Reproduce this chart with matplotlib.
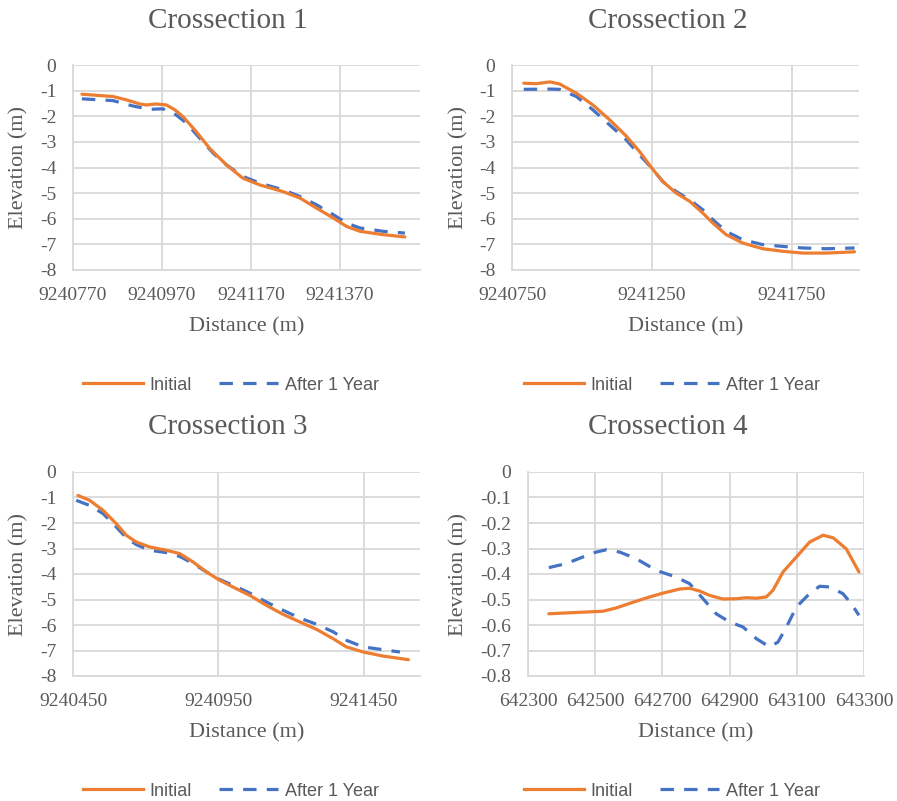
import matplotlib
matplotlib.use("Agg")
import matplotlib.pyplot as plt
from matplotlib.lines import Line2D

# ---------------- data ----------------
titles = ["Crossection 1", "Crossection 2", "Crossection 3", "Crossection 4"]
series_names = ["Initial", "After 1 Year"]

cs1_x_init = [9240790, 9240860, 9240890, 9240920, 9240935, 9240957, 9240980, 9240999, 9241017,
              9241047, 9241077, 9241115, 9241152, 9241190, 9241242, 9241280, 9241317, 9241355,
              9241385, 9241415, 9241467, 9241516]
cs1_y_init = [-1.14, -1.23, -1.36, -1.52, -1.56, -1.52, -1.56, -1.75, -2.01, -2.60, -3.25, -3.90,
              -4.42, -4.68, -4.94, -5.19, -5.58, -5.97, -6.30, -6.49, -6.62, -6.71]
cs1_x_after = [9240790, 9240860, 9240905, 9240942, 9240972, 9241002, 9241025, 9241055, 9241085,
               9241115, 9241152, 9241190, 9241242, 9241280, 9241317, 9241355, 9241385, 9241415,
               9241467, 9241516]
cs1_y_after = [-1.32, -1.39, -1.60, -1.73, -1.71, -1.95, -2.27, -2.86, -3.44, -3.90, -4.35, -4.61,
               -4.87, -5.13, -5.45, -5.84, -6.17, -6.36, -6.49, -6.56]

cs2_x_init = [9240792, 9240837, 9240885, 9240920, 9240980, 9241039, 9241099, 9241158, 9241206,
              9241250, 9241289, 9241337, 9241385, 9241432, 9241468, 9241515, 9241575, 9241646,
              9241718, 9241789, 9241873, 9241974]
cs2_y_init = [-0.71, -0.73, -0.66, -0.74, -1.10, -1.56, -2.14, -2.77, -3.38, -4.03, -4.55, -5.00,
              -5.32, -5.78, -6.17, -6.62, -6.95, -7.17, -7.27, -7.34, -7.34, -7.29]
cs2_x_after = [9240792, 9240885, 9240920, 9240980, 9241039, 9241099, 9241158, 9241206, 9241250,
               9241289, 9241337, 9241385, 9241432, 9241468, 9241515, 9241575, 9241646, 9241718,
               9241789, 9241873, 9241974]
cs2_y_after = [-0.95, -0.94, -0.95, -1.23, -1.75, -2.34, -2.92, -3.51, -4.03, -4.55, -4.94, -5.26,
               -5.65, -6.04, -6.49, -6.82, -7.01, -7.08, -7.14, -7.17, -7.14]

cs3_x_init = [9240467, 9240507, 9240553, 9240599, 9240633, 9240668, 9240714, 9240771, 9240817,
              9240863, 9240909, 9240955, 9241000, 9241058, 9241115, 9241172, 9241230, 9241287,
              9241345, 9241390, 9241448, 9241517, 9241603]
cs3_y_init = [-0.92, -1.11, -1.50, -2.03, -2.48, -2.75, -2.94, -3.07, -3.20, -3.53, -3.92, -4.25,
              -4.51, -4.84, -5.23, -5.58, -5.88, -6.17, -6.54, -6.86, -7.06, -7.22, -7.36]
cs3_x_after = [9240461, 9240507, 9240553, 9240599, 9240633, 9240668, 9240714, 9240771, 9240817,
               9240863, 9240909, 9240955, 9241000, 9241058, 9241115, 9241172, 9241230, 9241287,
               9241345, 9241390, 9241448, 9241517, 9241574]
cs3_y_after = [-1.11, -1.31, -1.63, -2.16, -2.58, -2.85, -3.07, -3.16, -3.31, -3.59, -3.92, -4.22,
               -4.44, -4.75, -5.10, -5.42, -5.73, -5.97, -6.27, -6.60, -6.86, -6.97, -7.06]

cs4_x_init = [642362, 642424, 642474, 642523, 642563, 642612, 642662, 642702, 642751, 642781,
              642811, 642841, 642880, 642920, 642950, 642980, 643009, 643029, 643059, 643099,
              643138, 643178, 643208, 643247, 643285]
cs4_y_init = [-0.556, -0.552, -0.549, -0.546, -0.533, -0.511, -0.490, -0.475, -0.459, -0.456,
              -0.467, -0.484, -0.498, -0.497, -0.493, -0.495, -0.490, -0.464, -0.392, -0.333,
              -0.275, -0.248, -0.258, -0.301, -0.392]
cs4_x_after = [642362, 642414, 642464, 642503, 642533, 642573, 642622, 642682, 642741, 642781,
               642821, 642860, 642900, 642940, 642980, 643019, 643044, 643069, 643099, 643138,
               643168, 643198, 643237, 643262, 643285]
cs4_y_after = [-0.375, -0.359, -0.333, -0.314, -0.305, -0.314, -0.340, -0.386, -0.412, -0.438,
               -0.497, -0.556, -0.588, -0.608, -0.654, -0.686, -0.667, -0.608, -0.529, -0.477,
               -0.448, -0.451, -0.477, -0.516, -0.562]

cs1_xticks = [9240770, 9240970, 9241170, 9241370]
cs2_xticks = [9240750, 9241250, 9241750]
cs3_xticks = [9240450, 9240950, 9241450]
cs4_xticks = [642300, 642500, 642700, 642900, 643100, 643300]
deep_yticks = [0, -1, -2, -3, -4, -5, -6, -7, -8]
deep_yticklabels = ["0", "-1", "-2", "-3", "-4", "-5", "-6", "-7", "-8"]
cs4_yticks = [0, -0.1, -0.2, -0.3, -0.4, -0.5, -0.6, -0.7, -0.8]
cs4_yticklabels = ["0", "-0.1", "-0.2", "-0.3", "-0.4", "-0.5", "-0.6", "-0.7", "-0.8"]

panels = [
    dict(title=titles[0], xi=cs1_x_init, yi=cs1_y_init, xa=cs1_x_after, ya=cs1_y_after,
         xticks=cs1_xticks, xlim=(9240770, 9241550), yticks=deep_yticks, ytl=deep_yticklabels),
    dict(title=titles[1], xi=cs2_x_init, yi=cs2_y_init, xa=cs2_x_after, ya=cs2_y_after,
         xticks=cs2_xticks, xlim=(9240750, 9241990), yticks=deep_yticks, ytl=deep_yticklabels),
    dict(title=titles[2], xi=cs3_x_init, yi=cs3_y_init, xa=cs3_x_after, ya=cs3_y_after,
         xticks=cs3_xticks, xlim=(9240450, 9241643), yticks=deep_yticks, ytl=deep_yticklabels),
    dict(title=titles[3], xi=cs4_x_init, yi=cs4_y_init, xa=cs4_x_after, ya=cs4_y_after,
         xticks=cs4_xticks, xlim=(642300, 643300), yticks=cs4_yticks, ytl=cs4_yticklabels),
]

# ---------------- style ----------------
W, H = 897, 801
ORANGE = "#ED7D31"
BLUE = "#4472C4"
GREY_TXT = "#595959"
GRID = "#D9D9D9"
SERIF = ["Liberation Serif", "DejaVu Serif"]
NARROW = ["Liberation Sans Narrow", "Liberation Sans", "DejaVu Sans"]

fig = plt.figure(figsize=(W / 100, H / 100), dpi=100)
fig.patch.set_facecolor("white")

# axes boxes in pixels: left, top, right, bottom
boxes = [(73, 65, 420, 270), (512, 65, 859, 270), (73, 472, 420, 676), (528, 472, 864, 676)]
title_pos = [(228, 21), (668, 21), (228, 427), (668, 427)]
ylabel_x = [19, 459, 19, 459]
xlabel_y = [327, 327, 733, 733]
legend_pos = [(231, 385), (672, 385), (231, 791), (672, 791)]

for p, box, tp, ylx, xly, lp in zip(panels, boxes, title_pos, ylabel_x, xlabel_y, legend_pos):
    l, t, r, b = box
    ax = fig.add_axes([l / W, 1 - b / H, (r - l) / W, (b - t) / H])
    ax.set_xlim(*p["xlim"])
    ax.set_ylim(p["yticks"][-1], p["yticks"][0])
    ax.set_xticks(p["xticks"])
    ax.set_xticklabels([str(v) for v in p["xticks"]])
    ax.set_yticks(p["yticks"])
    ax.set_yticklabels(p["ytl"])
    ax.grid(True, color=GRID, linewidth=1.3, zorder=0)
    ax.set_axisbelow(True)
    for s in ["top", "right"]:
        ax.spines[s].set_visible(False)
    for s in ["left", "bottom"]:
        ax.spines[s].set_color(GRID)
        ax.spines[s].set_linewidth(1.3)
    ax.tick_params(length=0, labelcolor=GREY_TXT, labelsize=14, pad=12)
    for lab in ax.get_xticklabels() + ax.get_yticklabels():
        lab.set_family(SERIF)

    ax.plot(p["xi"], p["yi"], color=ORANGE, linewidth=2.3, solid_capstyle="round",
            solid_joinstyle="round", label=series_names[0], zorder=3)
    ax.plot(p["xa"], p["ya"], color=BLUE, linewidth=2.3, linestyle=(0, (4.2, 3.2)),
            dash_capstyle="butt", label=series_names[1], zorder=2)

    fig.text(tp[0] / W, 1 - tp[1] / H, p["title"], ha="center", va="center",
             fontsize=21, color=GREY_TXT, family=SERIF)
    fig.text(((l + r) / 2) / W, 1 - xly / H, "Distance (m)", ha="center", va="center",
             fontsize=16, color=GREY_TXT, family=SERIF)
    fig.text(ylx / W, 1 - ((t + b) / 2) / H, "Elevation (m)", ha="center", va="center",
             rotation=90, fontsize=16, color=GREY_TXT, family=SERIF)

    handles = [Line2D([], [], color=ORANGE, linewidth=2.3),
               Line2D([], [], color=BLUE, linewidth=2.3, linestyle=(0, (4.2, 3.2)))]
    leg = fig.legend(handles, series_names, loc="center", ncol=2, frameon=False,
                     bbox_to_anchor=(lp[0] / W, 1 - lp[1] / H),
                     prop={"family": NARROW, "size": 13}, handlelength=3.3,
                     handletextpad=0.35, columnspacing=1.5, borderpad=0)
    for txt in leg.get_texts():
        txt.set_color(GREY_TXT)

fig.savefig("out.png", dpi=100, facecolor="white")
